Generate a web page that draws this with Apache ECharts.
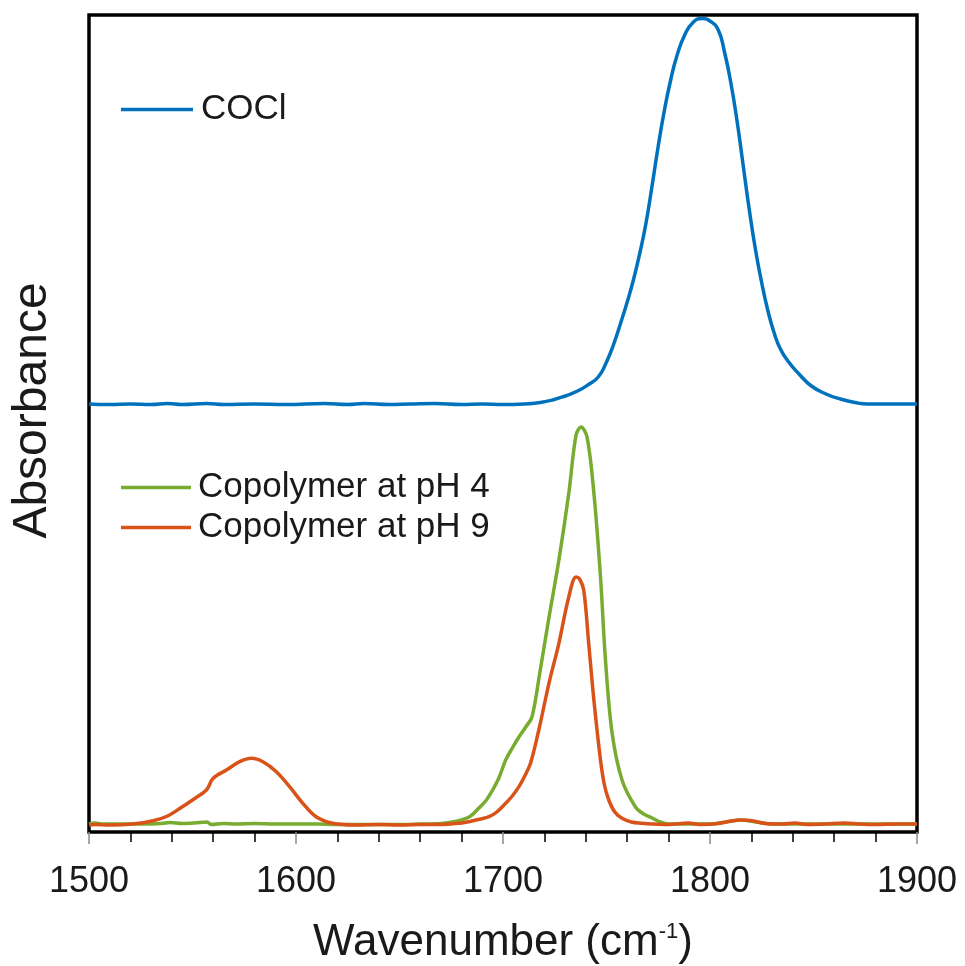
<!DOCTYPE html>
<html>
<head>
<meta charset="utf-8">
<script src="https://cdn.jsdelivr.net/npm/echarts@6/dist/echarts.min.js"></script>
<style>
html,body{margin:0;padding:0;background:#fff;}
#chart{width:965px;height:966px;}
</style>
</head>
<body>
<div id="chart"></div>
<script>
// Wavenumber (cm^-1) and absorbance (arbitrary units, COCl trace offset upward)
var coclWn = [1500,1510,1520,1530,1538,1545,1557,1565,1580,1595,1614,1625,1633,1645,1655,1667,1680,1690,1700,1710,1718,1724,1730,1736,1741,1746,1750,1753.5,1757,1760,1763,1766,1769,1772,1775,1778,1781,1784,1788,1792,1796,1800,1804,1807,1810,1813,1816,1819,1822,1825,1828,1831,1834,1838,1843,1849,1856,1863,1870,1876,1885,1900];
var coclAbs = [0.428,0.4275,0.428,0.4275,0.4285,0.4275,0.4285,0.4275,0.428,0.4275,0.4285,0.4275,0.4285,0.4275,0.428,0.4285,0.4275,0.428,0.4275,0.428,0.4295,0.432,0.436,0.441,0.447,0.455,0.470,0.488,0.510,0.530,0.552,0.578,0.608,0.646,0.686,0.722,0.752,0.776,0.798,0.810,0.8135,0.811,0.802,0.780,0.750,0.712,0.667,0.622,0.582,0.549,0.521,0.499,0.483,0.470,0.458,0.446,0.438,0.433,0.4295,0.428,0.428,0.428];

var ph4Wn = [1500,1503,1506,1515,1525,1535,1539,1545,1551,1557,1559,1565,1571,1580,1590,1600,1610,1620,1630,1640,1650,1660,1670,1678,1684,1688.4,1692,1695,1698,1701.3,1704.5,1707.7,1711,1714,1718,1722,1727,1731.8,1735.3,1737.7,1740.6,1743.9,1747.1,1749.5,1752.7,1757.5,1764,1768,1772,1776,1780,1790,1800,1808,1815,1822,1830,1850,1875,1900];
var ph4Abs = [0.008,0.009,0.008,0.008,0.008,0.0085,0.0095,0.0085,0.009,0.010,0.0075,0.0085,0.008,0.0085,0.008,0.008,0.008,0.0075,0.0075,0.0075,0.0075,0.008,0.0085,0.011,0.0155,0.024,0.032,0.042,0.054,0.072,0.084,0.095,0.105,0.115,0.162,0.212,0.272,0.339,0.397,0.405,0.395,0.339,0.255,0.172,0.099,0.052,0.025,0.018,0.014,0.010,0.008,0.008,0.008,0.010,0.012,0.010,0.008,0.008,0.008,0.008];

var ph9Wn = [1500,1503,1510,1521,1531,1538,1544,1550,1556.7,1560,1566.4,1572.8,1578.4,1584,1590.5,1596.9,1603.3,1609.7,1617.7,1629,1640,1650,1660,1670,1680,1683.6,1688,1693.3,1697,1701.3,1704.5,1707.7,1710.5,1713.3,1717.3,1722.2,1727,1731.8,1735.3,1737,1739,1741.4,1743.9,1747.1,1749,1751.1,1754,1757.5,1762,1767.1,1772,1780,1789.6,1795,1804,1810,1815.3,1821,1827,1835,1841,1847,1856,1865,1872,1880,1890,1900];
var ph9Abs = [0.007,0.0075,0.007,0.008,0.0113,0.016,0.0237,0.032,0.042,0.0537,0.062,0.0703,0.0737,0.0703,0.0603,0.0453,0.0287,0.0153,0.0087,0.007,0.0075,0.007,0.0075,0.0075,0.009,0.0103,0.0125,0.0153,0.020,0.0287,0.036,0.0453,0.056,0.0687,0.102,0.1487,0.1887,0.2353,0.255,0.253,0.242,0.1887,0.132,0.072,0.047,0.032,0.020,0.0137,0.010,0.0087,0.008,0.0075,0.009,0.0075,0.0085,0.011,0.012,0.011,0.0085,0.008,0.009,0.0075,0.008,0.009,0.008,0.0075,0.008,0.008];

var seriesNames = ['COCl', 'Copolymer at pH 4', 'Copolymer at pH 9'];
var xTicks = [1500, 1600, 1700, 1800, 1900];

function pairs(xs, ys) {
  var out = [];
  for (var i = 0; i < xs.length; i++) out.push([xs[i], ys[i]]);
  return out;
}

var FONT = '"Liberation Sans", Arial, Helvetica, sans-serif';
var chart = echarts.init(document.getElementById('chart'), null, {renderer: 'canvas'});
chart.setOption({
  animation: false,
  backgroundColor: '#ffffff',
  grid: {
    left: 89, right: 48, top: 15, bottom: 134,
    containLabel: false, outerBoundsMode: 'none',
    show: true, borderColor: '#000000', borderWidth: 3.5,
    backgroundColor: 'transparent'
  },
  legend: [
    {
      data: [seriesNames[0]],
      left: 121, top: 92, padding: 0,
      icon: 'rect', itemWidth: 72, itemHeight: 3.5,
      textStyle: {fontFamily: FONT, fontSize: 35, color: '#1a1a1a', padding: [0, 0, 0, 3]},
      selectedMode: false
    },
    {
      data: [seriesNames[1], seriesNames[2]],
      orient: 'vertical',
      left: 121, top: 470, padding: 0,
      itemGap: 5,
      icon: 'rect', itemWidth: 70, itemHeight: 3.5,
      textStyle: {fontFamily: FONT, fontSize: 35, color: '#1a1a1a', padding: [0, 0, 0, 2]},
      selectedMode: false
    }
  ],
  xAxis: {
    type: 'value',
    min: xTicks[0], max: xTicks[xTicks.length - 1], interval: 100,
    name: 'Wavenumber (cm{sup|-1})',
    nameLocation: 'middle',
    nameGap: 89,
    nameTextStyle: {
      fontFamily: FONT, fontSize: 44, color: '#1a1a1a',
      rich: {sup: {fontFamily: FONT, fontSize: 22, color: '#1a1a1a', verticalAlign: 'top', lineHeight: 22}}
    },
    axisLine: {show: false},
    axisTick: {show: true, inside: false, length: 12, lineStyle: {color: '#8a8a8a', width: 1.5}},
    minorTick: {show: true, splitNumber: 5, length: 10, lineStyle: {color: '#000000', width: 1.5}},
    splitLine: {show: false},
    axisLabel: {
      fontFamily: FONT, fontSize: 36, color: '#1a1a1a', margin: 32,
      formatter: function (v) { return String(v); }
    }
  },
  yAxis: {
    type: 'value',
    min: 0, max: 0.817,
    name: 'Absorbance',
    nameLocation: 'middle',
    nameGap: 32,
    nameTextStyle: {fontFamily: FONT, fontSize: 48, color: '#1a1a1a', padding: [0, 0, 0, 26]},
    axisLine: {show: false},
    axisTick: {show: false},
    axisLabel: {show: false},
    splitLine: {show: false}
  },
  series: [
    {
      name: seriesNames[0], type: 'line', data: pairs(coclWn, coclAbs),
      showSymbol: false, smooth: 0.5, color: '#0072BD',
      lineStyle: {width: 3.5, color: '#0072BD'}, z: 3
    },
    {
      name: seriesNames[1], type: 'line', data: pairs(ph4Wn, ph4Abs),
      showSymbol: false, smooth: 0.35, color: '#77AC30',
      lineStyle: {width: 3.5, color: '#77AC30'}, z: 3
    },
    {
      name: seriesNames[2], type: 'line', data: pairs(ph9Wn, ph9Abs),
      showSymbol: false, smooth: 0.35, color: '#D95319',
      lineStyle: {width: 3.5, color: '#D95319'}, z: 4
    }
  ]
});
</script>
</body>
</html>
